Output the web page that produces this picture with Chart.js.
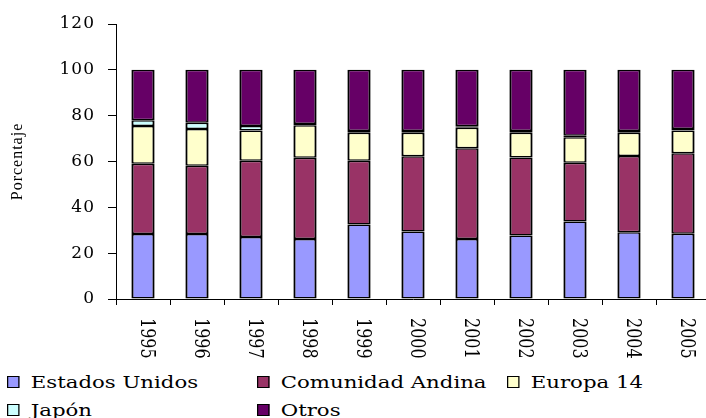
<!DOCTYPE html>
<html>
<head>
<meta charset="utf-8">
<script src="https://cdn.jsdelivr.net/npm/chart.js@4"></script>
<style>
html, body { margin: 0; padding: 0; background: #fff; overflow: hidden; width: 706px; height: 418px; }
#wrap { position: absolute; left: 0; top: 0; width: 710px; height: 368px; }
#legend {
  position: absolute; left: 7px; top: 368px;
  transform: scaleX(1.25); transform-origin: 0 0;
  display: grid; grid-template-columns: 200px 200px 200px;
  font: 17px "DejaVu Serif"; color: #000;
}
.item { height: 28px; display: flex; align-items: center; white-space: nowrap; }
.sw { width: 10px; height: 12px; border: 1px solid #000; box-sizing: border-box; margin-right: 9px; }
</style>
</head>
<body>
<div id="wrap"><canvas id="chart" width="710" height="368"></canvas></div>
<div id="legend"></div>
<script>
// Exportaciones por destino, % del total
const years = ['1995', '1996', '1997', '1998', '1999', '2000', '2001', '2002', '2003', '2004', '2005'];
const estadosUnidos   = [28.4, 28.4, 27.1, 26.2, 32.5, 29.5, 26.2, 27.7, 33.8, 29.1, 28.5];
const comunidadAndina = [30.6, 29.7, 33.2, 35.4, 27.8, 32.8, 39.6, 34.0, 25.7, 33.3, 35.1];
const europa14        = [16.5, 16.1, 13.2, 14.2, 12.3, 10.3, 8.9, 10.9, 11.1, 10.2, 9.9];
const japon           = [2.5, 2.7, 2.0, 0.6, 0.7, 0.7, 0.7, 0.7, 0.6, 0.7, 0.7];
const otros           = [22.0, 23.1, 24.5, 23.6, 26.7, 26.7, 24.6, 26.7, 28.8, 26.7, 25.8];

const series = [
  { label: 'Estados Unidos', data: estadosUnidos, color: '#9999ff' },
  { label: 'Comunidad Andina', data: comunidadAndina, color: '#993366' },
  { label: 'Europa 14', data: europa14, color: '#ffffcc' },
  { label: 'Japón', data: japon, color: '#ccffff' },
  { label: 'Otros', data: otros, color: '#660066' }
];

// slightly wider text like the original
const spacing = {
  id: 'spacing',
  beforeDraw(chart){ chart.ctx.letterSpacing = '1px'; }
};

// year labels rotated clockwise (top to bottom)
const yearLabels = {
  id: 'yearLabels',
  afterDraw(chart){
    const ctx = chart.ctx, sx = chart.scales.x;
    ctx.save();
    ctx.letterSpacing = '0px';
    ctx.font = '16px "DejaVu Serif"';
    ctx.fillStyle = '#000';
    ctx.textAlign = 'left';
    ctx.textBaseline = 'alphabetic';
    years.forEach((y, i) => {
      const x = sx.getPixelForTick(i);
      ctx.save();
      ctx.translate(x - 2, sx.top + 19);
      ctx.scale(1.25, 1);
      ctx.rotate(Math.PI / 2);
      ctx.fillText(y, 0, 0);
      ctx.restore();
    });
    ctx.restore();
    ctx.letterSpacing = '0px';
  }
};

const chart = new Chart(document.getElementById('chart'), {
  type: 'bar',
  data: {
    labels: years,
    datasets: series.map(s => ({
      label: s.label,
      data: s.data,
      backgroundColor: s.color,
      borderColor: '#000',
      borderWidth: { top: 1.5, bottom: 1.5, left: 2.2, right: 2.2 },
      borderSkipped: false,
      barPercentage: 0.43,
      categoryPercentage: 1.0
    }))
  },
  options: {
    responsive: false,
    animation: false,
    layout: { padding: { top: 24, left: 0, right: 0, bottom: 0 } },
    plugins: { legend: { display: false }, tooltip: { enabled: false } },
    scales: {
      x: {
        stacked: true,
        grid: { drawOnChartArea: false, drawTicks: true, tickLength: 6, color: '#000', offset: true },
        border: { color: '#000', width: 1 },
        ticks: { display: false },
        afterFit(s){ s.height = 69; }
      },
      y: {
        stacked: true,
        min: 0, max: 120,
        ticks: { stepSize: 20, color: '#000', font: { family: 'DejaVu Serif', size: 17 }, padding: 13 },
        grid: { drawOnChartArea: false, tickLength: 8, color: '#000' },
        border: { color: '#000', width: 1 },
        title: { display: true, text: 'Porcentaje', color: '#000',
                 font: { family: 'Liberation Serif', size: 16 }, padding: { top: 8, bottom: 0 } },
        afterFit(s){ s.width = 116; }
      }
    }
  },
  plugins: [spacing, yearLabels]
});

// legend in the same grid as the original (3 columns)
const legendEl = document.getElementById('legend');
series.forEach(s => {
  const item = document.createElement('div');
  item.className = 'item';
  const sw = document.createElement('span');
  sw.className = 'sw';
  sw.style.background = s.color;
  const txt = document.createElement('span');
  txt.textContent = s.label;
  item.appendChild(sw);
  item.appendChild(txt);
  legendEl.appendChild(item);
});
</script>
</body>
</html>
